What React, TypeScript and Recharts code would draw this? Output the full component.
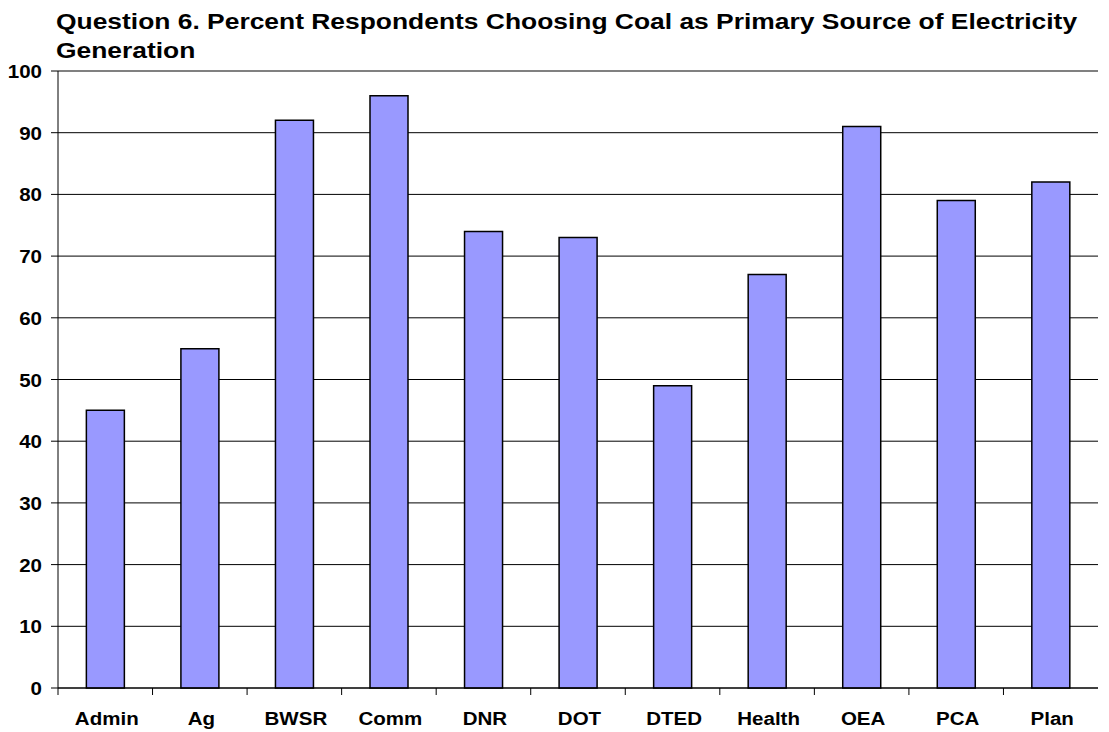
import React from 'react'
import {
  BarChart,
  Bar,
  XAxis,
  YAxis,
  CartesianGrid,
  ReferenceLine,
} from 'recharts'

const categories = ['Admin', 'Ag', 'BWSR', 'Comm', 'DNR', 'DOT', 'DTED', 'Health', 'OEA', 'PCA', 'Plan']
const coalPercent = [45, 55, 92, 96, 74, 73, 49, 67, 91, 79, 82]
const yTicks = [0, 10, 20, 30, 40, 50, 60, 70, 80, 90, 100]

const data = categories.map((name, i) => ({ name, value: coalPercent[i] }))

const W = 1109
const H = 732
const M = { top: 71, right: 11, left: 0, bottom: 0 }
const Y_W = 58
const band = (W - M.right - Y_W) / categories.length
// the original text looks stretched sideways
const TITLE_STRETCH = 1.2
const TICK_STRETCH = 1.08

const font = '"Liberation Sans", Arial, sans-serif'

const CatTick = ({ x, y, payload }: any) => (
  <g>
    <line x1={x - band / 2} x2={x - band / 2} y1={y - 8} y2={y - 1} stroke="#000" strokeWidth={1} />
    <text
      transform={`translate(${x + 1.5},${y + 29}) scale(${TICK_STRETCH},1)`}
      textAnchor="middle"
      fontFamily={font}
      fontWeight="bold"
      fontSize={19}
      fill="#000"
    >
      {payload.value}
    </text>
  </g>
)

const ValTick = ({ x, y, payload }: any) => (
  <text
    transform={`translate(${x - 7},${y + 7}) scale(${TICK_STRETCH},1)`}
    textAnchor="end"
    fontFamily={font}
    fontWeight="bold"
    fontSize={19}
    fill="#000"
  >
    {payload.value}
  </text>
)

const App = () => {
  return (
    <div style={{ position: 'absolute', left: 0, top: 0, width: W, height: H, background: '#fff' }}>
      <div
        style={{
          position: 'absolute',
          left: 56,
          top: 7,
          width: 870,
          fontFamily: font,
          fontWeight: 'bold',
          fontSize: 22,
          lineHeight: '29px',
          color: '#000',
          transform: `scaleX(${TITLE_STRETCH})`,
          transformOrigin: 'left top',
        }}
      >
        Question 6. Percent Respondents Choosing Coal as Primary Source of Electricity Generation
      </div>
      <BarChart width={W} height={H} data={data} margin={M} barCategoryGap="30%">
        <CartesianGrid vertical={false} stroke="#000" strokeWidth={1} />
        <XAxis
          dataKey="name"
          axisLine={{ stroke: '#000', strokeWidth: 1 }}
          tickLine={false}
          tick={<CatTick />}
          height={44}
          interval={0}
        />
        <YAxis
          domain={[0, 100]}
          ticks={yTicks}
          width={Y_W}
          axisLine={{ stroke: '#000', strokeWidth: 1 }}
          tickLine={{ stroke: '#000' }}
          tickSize={7}
          tick={<ValTick />}
          interval={0}
        />
        <ReferenceLine y={100} stroke="#808080" strokeWidth={2} />
        <Bar dataKey="value" fill="#9999FF" stroke="#000" strokeWidth={1.5} isAnimationActive={false} />
      </BarChart>
    </div>
  )
}

export default App
